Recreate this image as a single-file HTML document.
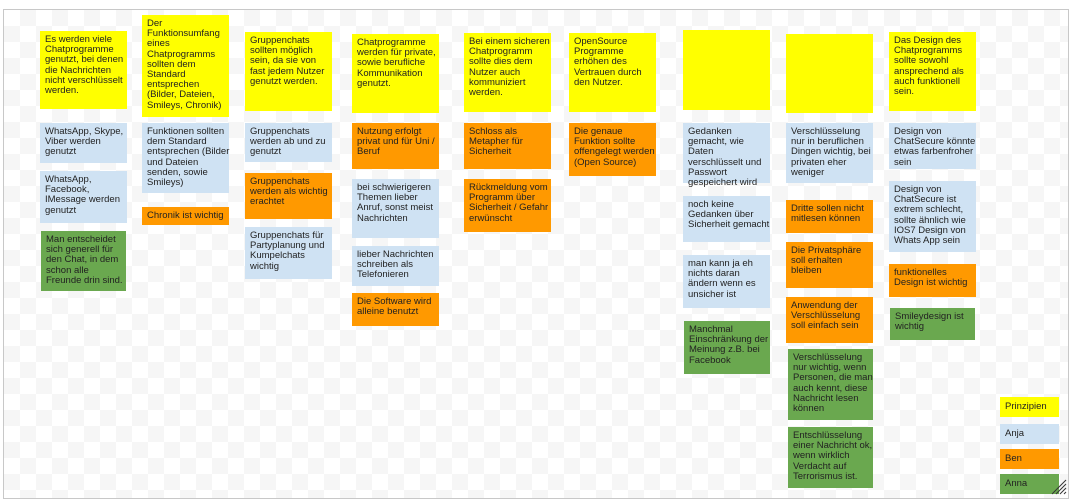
<!DOCTYPE html>
<html><head><meta charset="utf-8"><style>
html,body{margin:0;padding:0;background:#fff;}
body{width:1071px;height:503px;position:relative;overflow:hidden;font-family:"Liberation Sans",Arial,sans-serif;}
#frame{position:absolute;left:3px;top:9px;width:1064px;height:488px;border:1px solid #c8c8c8;
background-color:#fff;
background-image:linear-gradient(45deg,#f6f6f6 25%,transparent 25%,transparent 75%,#f6f6f6 75%),linear-gradient(45deg,#f6f6f6 25%,transparent 25%,transparent 75%,#f6f6f6 75%);
background-size:32px 32px;background-position:0 0,16px 16px;}
.n{position:absolute;box-sizing:border-box;padding:4px 0 0 5px;font-size:9.5px;line-height:10.2px;color:#222;overflow:visible;white-space:nowrap;}
.y{background:#ffff00;}
.b{background:#cfe2f3;}
.o{background:#ff9900;}
.g{background:#6aa84f;}
</style></head><body>
<div id="frame"></div>

<div class="n y" style="left:40px;top:31px;width:87px;height:78px">Es werden viele<br>Chatprogramme<br>genutzt, bei denen<br>die Nachrichten<br>nicht verschlüsselt<br>werden.</div>
<div class="n b" style="left:40px;top:123px;width:87px;height:40px">WhatsApp, Skype,<br>Viber werden<br>genutzt</div>
<div class="n b" style="left:40px;top:171px;width:87px;height:52px">WhatsApp,<br>Facebook,<br>IMessage werden<br>genutzt</div>
<div class="n g" style="left:41px;top:231px;width:85px;height:60px">Man entscheidet<br>sich generell für<br>den Chat, in dem<br>schon alle<br>Freunde drin sind.</div>

<div class="n y" style="left:142px;top:15px;width:87px;height:102px">Der<br>Funktionsumfang<br>eines<br>Chatprogramms<br>sollten dem<br>Standard<br>entsprechen<br>(Bilder, Dateien,<br>Smileys, Chronik)</div>
<div class="n b" style="left:142px;top:123px;width:87px;height:70px">Funktionen sollten<br>dem Standard<br>entsprechen (Bilder<br>und Dateien<br>senden, sowie<br>Smileys)</div>
<div class="n o" style="left:142px;top:207px;width:87px;height:18px;padding-top:4px">Chronik ist wichtig</div>

<div class="n y" style="left:245px;top:32px;width:87px;height:79px">Gruppenchats<br>sollten möglich<br>sein, da sie von<br>fast jedem Nutzer<br>genutzt werden.</div>
<div class="n b" style="left:245px;top:123px;width:87px;height:39px">Gruppenchats<br>werden ab und zu<br>genutzt</div>
<div class="n o" style="left:245px;top:173px;width:87px;height:46px">Gruppenchats<br>werden als wichtig<br>erachtet</div>
<div class="n b" style="left:245px;top:227px;width:87px;height:52px">Gruppenchats für<br>Partyplanung und<br>Kumpelchats<br>wichtig</div>

<div class="n y" style="left:352px;top:34px;width:87px;height:79px">Chatprogramme<br>werden für private,<br>sowie berufliche<br>Kommunikation<br>genutzt.</div>
<div class="n o" style="left:352px;top:123px;width:87px;height:46px">Nutzung erfolgt<br>privat und für Uni /<br>Beruf</div>
<div class="n b" style="left:352px;top:179px;width:87px;height:59px">bei schwierigeren<br>Themen lieber<br>Anruf, sonst meist<br>Nachrichten</div>
<div class="n b" style="left:352px;top:246px;width:87px;height:40px">lieber Nachrichten<br>schreiben als<br>Telefonieren</div>
<div class="n o" style="left:352px;top:293px;width:87px;height:33px">Die Software wird<br>alleine benutzt</div>

<div class="n y" style="left:464px;top:33px;width:87px;height:79px">Bei einem sicheren<br>Chatprogramm<br>sollte dies dem<br>Nutzer auch<br>kommuniziert<br>werden.</div>
<div class="n o" style="left:464px;top:123px;width:87px;height:46px">Schloss als<br>Metapher für<br>Sicherheit</div>
<div class="n o" style="left:464px;top:179px;width:87px;height:53px">Rückmeldung vom<br>Programm über<br>Sicherheit / Gefahr<br>erwünscht</div>

<div class="n y" style="left:569px;top:33px;width:87px;height:79px">OpenSource<br>Programme<br>erhöhen des<br>Vertrauen durch<br>den Nutzer.</div>
<div class="n o" style="left:569px;top:123px;width:87px;height:53px">Die genaue<br>Funktion sollte<br>offengelegt werden<br>(Open Source)</div>

<div class="n y" style="left:683px;top:30px;width:87px;height:80px"></div>
<div class="n b" style="left:683px;top:123px;width:87px;height:60px">Gedanken<br>gemacht, wie<br>Daten<br>verschlüsselt und<br>Passwort<br>gespeichert wird</div>
<div class="n b" style="left:683px;top:196px;width:87px;height:46px">noch keine<br>Gedanken über<br>Sicherheit gemacht</div>
<div class="n b" style="left:683px;top:255px;width:87px;height:53px">man kann ja eh<br>nichts daran<br>ändern wenn es<br>unsicher ist</div>
<div class="n g" style="left:684px;top:321px;width:86px;height:53px">Manchmal<br>Einschränkung der<br>Meinung z.B. bei<br>Facebook</div>

<div class="n y" style="left:786px;top:34px;width:87px;height:79px"></div>
<div class="n b" style="left:786px;top:123px;width:87px;height:60px">Verschlüsselung<br>nur in beruflichen<br>Dingen wichtig, bei<br>privaten eher<br>weniger</div>
<div class="n o" style="left:786px;top:200px;width:87px;height:33px">Dritte sollen nicht<br>mitlesen können</div>
<div class="n o" style="left:786px;top:242px;width:87px;height:46px">Die Privatsphäre<br>soll erhalten<br>bleiben</div>
<div class="n o" style="left:786px;top:297px;width:87px;height:46px">Anwendung der<br>Verschlüsselung<br>soll einfach sein</div>
<div class="n g" style="left:788px;top:349px;width:85px;height:71px">Verschlüsselung<br>nur wichtig, wenn<br>Personen, die man<br>auch kennt, diese<br>Nachricht lesen<br>können</div>
<div class="n g" style="left:788px;top:427px;width:85px;height:61px">Entschlüsselung<br>einer Nachricht ok,<br>wenn wirklich<br>Verdacht auf<br>Terrorismus ist.</div>

<div class="n y" style="left:889px;top:32px;width:87px;height:79px">Das Design des<br>Chatprogramms<br>sollte sowohl<br>ansprechend als<br>auch funktionell<br>sein.</div>
<div class="n b" style="left:889px;top:123px;width:87px;height:46px">Design von<br>ChatSecure könnte<br>etwas farbenfroher<br>sein</div>
<div class="n b" style="left:889px;top:181px;width:87px;height:71px">Design von<br>ChatSecure ist<br>extrem schlecht,<br>sollte ähnlich wie<br>IOS7 Design von<br>Whats App sein</div>
<div class="n o" style="left:889px;top:264px;width:87px;height:33px">funktionelles<br>Design ist wichtig</div>
<div class="n g" style="left:890px;top:308px;width:85px;height:32px">Smileydesign ist<br>wichtig</div>

<div class="n y" style="left:1000px;top:397px;width:59px;height:20px;padding-top:5px">Prinzipien</div>
<div class="n b" style="left:1000px;top:424px;width:59px;height:20px;padding-top:5px">Anja</div>
<div class="n o" style="left:1000px;top:449px;width:59px;height:20px;padding-top:5px">Ben</div>
<div class="n g" style="left:1000px;top:474px;width:59px;height:20px;padding-top:5px">Anna</div>
<svg style="position:absolute;left:1050px;top:478px" width="18" height="18"><g stroke="#333" stroke-width="1"><line x1="16" y1="2" x2="2" y2="16"/><line x1="16" y1="6" x2="6" y2="16"/><line x1="16" y1="10" x2="10" y2="16"/><line x1="16" y1="14" x2="14" y2="16"/></g></svg>
</body></html>
